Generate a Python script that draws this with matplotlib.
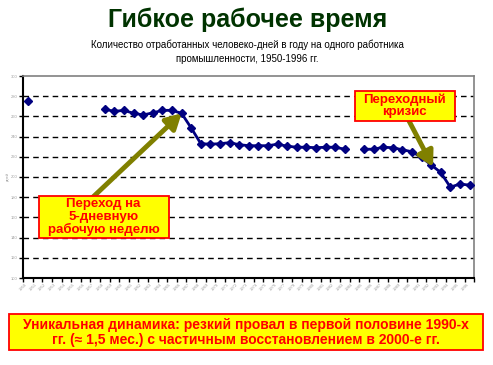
import numpy as np
import matplotlib.pyplot as plt
from matplotlib.patches import Rectangle

plt.rcParams['font.family'] = ['Liberation Sans', 'DejaVu Sans']

# Данные: отработанные человеко-дни в году на одного работника
years = list(range(1950, 1997))
nan = np.nan
days = [275, nan, nan, nan, nan, nan, nan, nan,
        267, 265, 266, 263, 261.5, 263.5, 266, 266, 263, 248.5,
        233, 232.5, 233, 234, 232, 231, 231, 231, 232.5, 230.5,
        229.5, 229.5, 229, 229.5, 229.5, 227.5, nan,
        227.5, 227.5, 229.5, 229, 227, 225, 219.5, 212, 204.5,
        190, 193, 192]
y_ticks = list(range(100, 301, 20))

title = "Гибкое рабочее время"
subtitle = ("Количество отработанных человеко-дней в году на одного работника\n"
            "промышленности, 1950-1996 гг.")
note1 = "Переход на\n5-дневную\nрабочую неделю"
note2 = "Переходный\nкризис"
bottom_text = ("Уникальная динамика: резкий провал в первой половине 1990-х\n"
               "гг. (≈ 1,5 мес.) с частичным восстановлением в 2000-е гг.")

W, H = 493, 365
fig = plt.figure(figsize=(W / 100, H / 100), dpi=100)

# основной график
ax = fig.add_axes([23.3 / W, 1 - 278 / H, 451 / W, 202 / H])
x = np.arange(len(years))
ax.plot(x, days, color='#000080', lw=2, marker='D', ms=4.2, zorder=3)
ax.set_xlim(-0.5, len(years) - 0.5)
ax.set_ylim(100, 300)
ax.set_yticks(y_ticks)
ax.set_yticklabels([str(v) for v in y_ticks], fontsize=3, color='#a0a0a0')
ax.set_xticks(x)
ax.set_xticklabels([str(y) for y in years], fontsize=3, color='#a0a0a0',
                   rotation=45, ha='right')
ax.set_xticks(np.arange(-0.5, len(years)), minor=True)
ax.tick_params(axis='x', which='major', length=0, pad=3)
ax.tick_params(axis='x', which='minor', length=3, width=1, direction='out')
ax.tick_params(axis='y', length=3, width=1, pad=1)
ax.set_ylabel("дней", fontsize=3, color='#a0a0a0', labelpad=1)
for v in y_ticks[1:-1]:
    ax.axhline(v, color='black', lw=1, ls=(0, (4, 3)), zorder=1)
for s in ['left', 'bottom']:
    ax.spines[s].set_linewidth(1.5)
for s in ['top', 'right']:
    ax.spines[s].set_color('#808080')
    ax.spines[s].set_linewidth(1.2)

# слой для надписей в пикселях
ov = fig.add_axes([0, 0, 1, 1], zorder=5)
ov.set_xlim(0, W)
ov.set_ylim(H, 0)
ov.axis('off')
ov.patch.set_alpha(0)

ov.text(248, 20, title, fontsize=18, fontweight='bold', color='#003300',
        ha='center', va='center')
ov.text(247, 52, subtitle, fontsize=7, color='black', ha='center',
        va='center', linespacing=1.45)

# стрелки к точкам графика
arrow_kw = dict(arrowstyle='-|>,head_length=0.9,head_width=0.5', color='#808000',
                lw=3.5, shrinkA=0, shrinkB=0)
ov.annotate('', xy=ax.transData.transform((16, 263)), xycoords='figure pixels',
            xytext=(93, H - 197), textcoords='figure pixels', arrowprops=arrow_kw)
ov.annotate('', xy=ax.transData.transform((42.2, 210)), xycoords='figure pixels',
            xytext=(408, H - 119), textcoords='figure pixels', arrowprops=arrow_kw)

def box(x0, y0, x1, y1, text, fs, ls=1.0):
    ov.add_patch(Rectangle((x0, y0), x1 - x0, y1 - y0, facecolor='#ffff00',
                           edgecolor='#ff0000', lw=1.3, zorder=6))
    ov.text((x0 + x1) / 2, (y0 + y1) / 2 + 0.5, text, fontsize=fs,
            fontweight='bold', color='#ff0000', ha='center', va='center',
            linespacing=ls, zorder=7)

box(38.5, 196, 168.5, 237.5, note1, 9.5, 1.05)
box(354.5, 91, 454.5, 120.5, note2, 9.5)
box(9, 314, 483, 350, bottom_text, 10, 1.12)

fig.savefig("out.png", dpi=100)
